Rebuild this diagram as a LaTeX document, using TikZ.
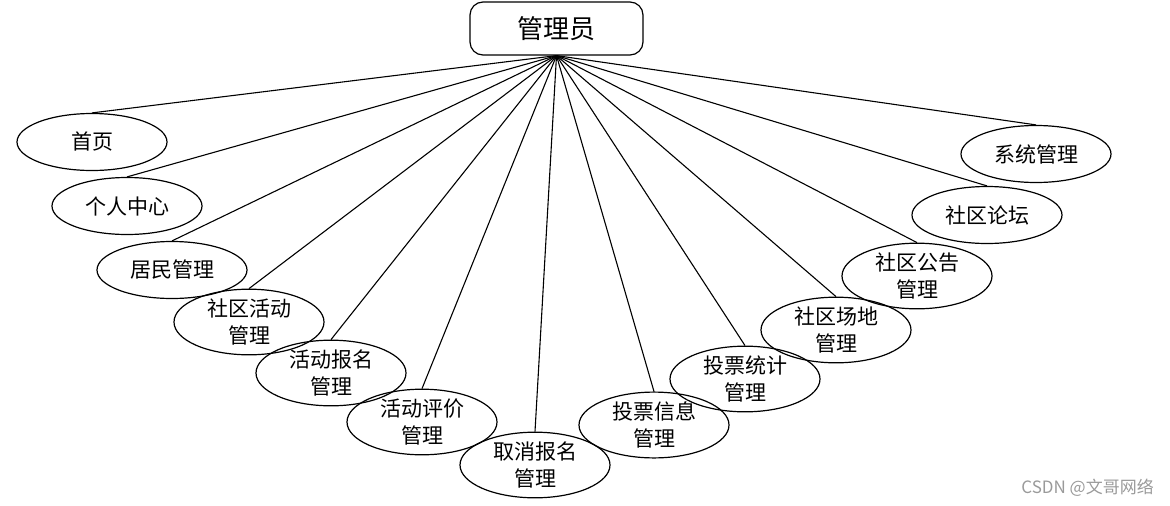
\documentclass[tikz,border=0pt]{standalone}
\usepackage{fontspec}
\newfontfamily\cjk{Noto Sans CJK SC}
\usetikzlibrary{shapes.geometric}
\definecolor{wmgray}{HTML}{9A9A9A}
\begin{document}
\begin{tikzpicture}[x=1pt,y=-1pt,
  leaf/.style={draw, line width=1.2pt, ellipse, minimum width=150pt, minimum height=57pt, inner sep=0pt, align=center, font=\cjk\fontsize{21}{27}\selectfont},
  rootbox/.style={draw, line width=1.2pt, rounded corners=13pt, minimum width=173pt, minimum height=53pt, inner sep=0pt, font=\cjk\fontsize{26}{30}\selectfont},
  link/.style={line width=1.1pt}]
\useasboundingbox (0,0) rectangle (1170,506);
\node[rootbox] (root) at (556.5,28.5) {管理员};
\node[leaf] (n1) at (92,142) {首页};
\node[leaf] (n2) at (127,206) {个人中心};
\node[leaf] (n3) at (172,270) {居民管理};
\node[leaf] (n4) at (249,322) {社区活动\\管理};
\node[leaf] (n5) at (331,373) {活动报名\\管理};
\node[leaf] (n6) at (422,422) {活动评价\\管理};
\node[leaf] (n7) at (535,465) {取消报名\\管理};
\node[leaf] (n8) at (654,425) {投票信息\\管理};
\node[leaf] (n9) at (745,379) {投票统计\\管理};
\node[leaf] (n10) at (836,330) {社区场地\\管理};
\node[leaf] (n11) at (917,276) {社区公告\\管理};
\node[leaf] (n12) at (987,215) {社区论坛};
\node[leaf] (n13) at (1036,154) {系统管理};
\foreach \i in {1,...,13} \draw[link] (root.south) -- (n\i.north);
\node[font=\cjk\fontsize{17}{20}\selectfont, text=wmgray, anchor=east, inner sep=0pt] (wm) at (1154,488) {CSDN @文哥网络};
\end{tikzpicture}
\end{document}
